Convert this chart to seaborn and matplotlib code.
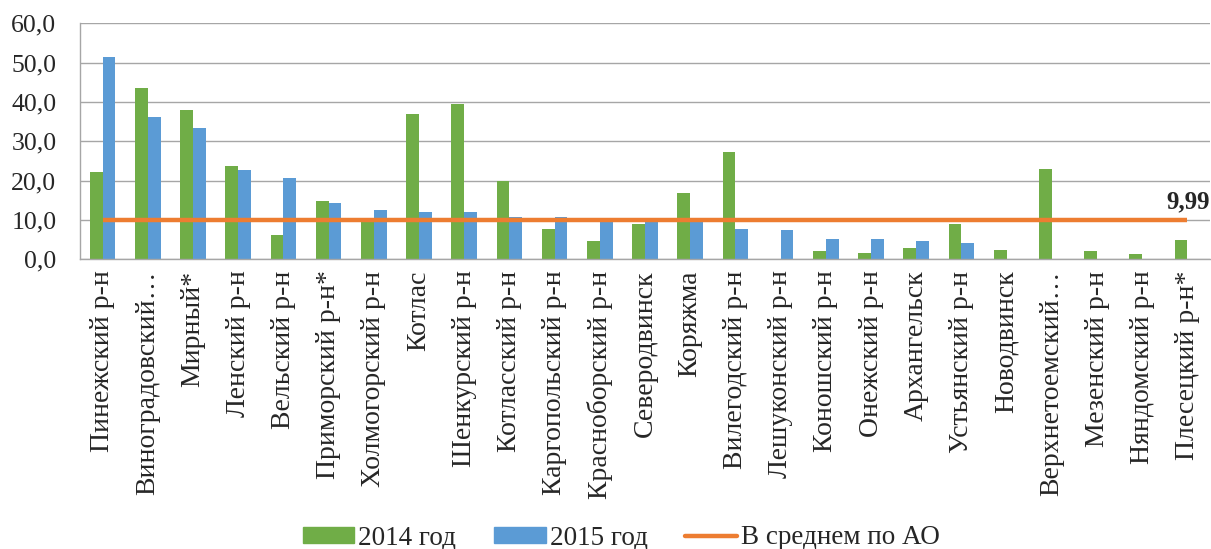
import numpy as np
import pandas as pd
import matplotlib
matplotlib.use("Agg")
import matplotlib.pyplot as plt
from matplotlib.ticker import FuncFormatter, FixedLocator
from matplotlib.patches import Patch
from matplotlib.lines import Line2D
import seaborn as sns

# data
districts = [
    "Пинежский р-н", "Виноградовский…", "Мирный*", "Ленский р-н", "Вельский р-н",
    "Приморский р-н*", "Холмогорский р-н", "Котлас", "Шенкурский р-н", "Котласский р-н",
    "Каргопольский р-н", "Красноборский р-н", "Северодвинск", "Коряжма", "Вилегодский р-н",
    "Лешуконский р-н", "Коношский р-н", "Онежский р-н", "Архангельск", "Устьянский р-н",
    "Новодвинск", "Верхнетоемский…", "Мезенский р-н", "Няндомский р-н", "Плесецкий р-н*",
]
vals_2014 = [22.1, 43.5, 37.9, 23.8, 6.1, 14.9, 10.0, 37.0, 39.6, 19.9,
             7.6, 4.7, 9.0, 16.8, 27.2, np.nan, 2.1, 1.6, 3.0, 9.0,
             2.4, 23.0, 2.1, 1.3, 5.0]
vals_2015 = [51.4, 36.3, 33.3, 22.8, 20.7, 14.2, 12.5, 12.1, 12.1, 10.7,
             10.7, 10.4, 9.9, 9.8, 7.6, 7.4, 5.1, 5.1, 4.6, 4.1,
             np.nan, np.nan, np.nan, np.nan, np.nan]
avg_ao = 9.99

series_names = ["2014 год", "2015 год"]
line_name = "В среднем по АО"
colors = {"2014 год": "#70AD47", "2015 год": "#5B9BD5"}
line_color = "#ED7D31"

df = pd.DataFrame({
    "district": districts * 2,
    "year": [series_names[0]] * len(districts) + [series_names[1]] * len(districts),
    "value": vals_2014 + vals_2015,
})

sns.set_style("white")
plt.rcParams["font.family"] = ["Liberation Serif", "DejaVu Serif"]

fig = plt.figure(figsize=(12.11, 5.49), dpi=100)
ax = fig.add_axes([80 / 1211, 1 - 259.3 / 549, 1130 / 1211, 236 / 549])

sns.barplot(data=df, x="district", y="value", hue="year", order=districts,
            hue_order=series_names, palette=colors, width=0.57, dodge=True,
            errorbar=None, saturation=1, edgecolor="none", legend=False, ax=ax)

n = len(districts)
ax.plot(np.arange(n), [avg_ao] * n, color=line_color, lw=3.2, solid_capstyle="butt",
        zorder=4)
ax.text(n - 0.5, avg_ao + 1.6, f"{avg_ao:.2f}".replace(".", ","), ha="right",
        va="bottom", fontsize=18, fontweight="bold")

ax.set_xlim(-0.5, n - 0.5)
ax.set_ylim(0, 60)
ax.set_yticks(np.arange(0, 61, 10))
ax.yaxis.set_major_formatter(FuncFormatter(lambda v, p: f"{v:.1f}".replace(".", ",")))
ax.grid(axis="y", color="#A6A6A6", lw=1.0)
ax.set_axisbelow(True)

ax.set_xlabel("")
ax.set_ylabel("")
ax.set_xticks(np.arange(n))
ax.set_xticklabels(districts, rotation=90, fontsize=20)
ax.xaxis.set_minor_locator(FixedLocator(np.arange(-0.5, n, 1.0)))
ax.tick_params(axis="x", which="major", length=0, pad=8)
ax.tick_params(axis="x", which="minor", length=6, color="#A6A6A6", width=1.0)
ax.tick_params(axis="y", length=6, color="#A6A6A6", width=1.0, pad=11, labelsize=18.5)

for side in ["top", "right"]:
    ax.spines[side].set_visible(False)
for side in ["left", "bottom"]:
    ax.spines[side].set_color("#A6A6A6")
    ax.spines[side].set_linewidth(1.0)

handles = [Patch(color=colors[s]) for s in series_names]
handles.append(Line2D([0], [0], color=line_color, lw=3.2))
fig.legend(handles, series_names + [line_name], loc="lower center",
           bbox_to_anchor=(0.513, -0.047), ncol=3, frameon=False, fontsize=19.5,
           handlelength=1.9, handleheight=0.55, columnspacing=1.4, handletextpad=0.15)

fig.savefig("out.png", dpi=100)
